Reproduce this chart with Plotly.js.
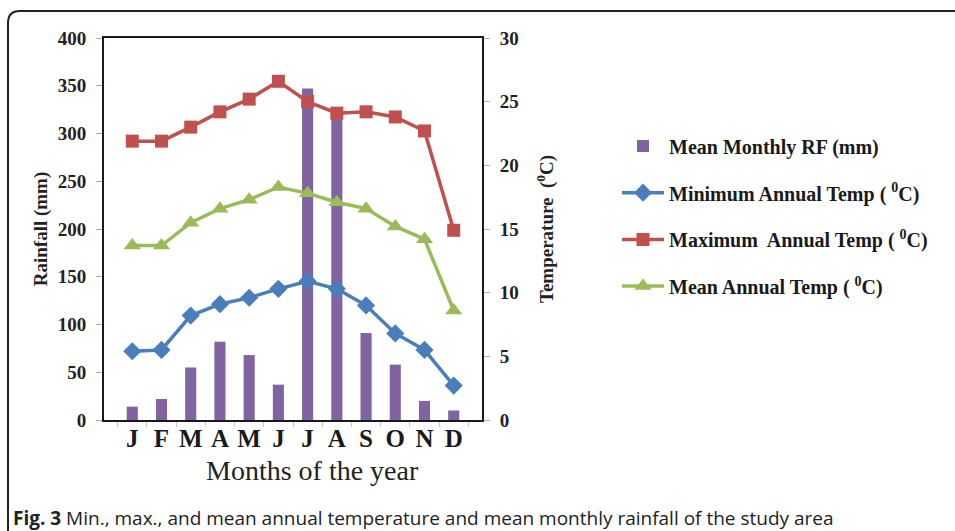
<!DOCTYPE html>
<html>
<head>
<meta charset="utf-8">
<script src="https://cdn.plot.ly/plotly-3.0.1.min.js"></script>
<style>
  html, body { margin: 0; padding: 0; background: #ffffff; }
  #chart { width: 955px; height: 531px; }
</style>
</head>
<body>
<div id="chart"></div>
<script>
// ---- data ----
const months = ["J", "F", "M", "A", "M ", "J ", "J  ", "A ", "S", "O", "N", "D"];
const monthLabels = ["J", "F", "M", "A", "M", "J", "J", "A", "S", "O", "N", "D"];
const rainfall = [14, 22, 55, 82, 68, 37, 347, 320, 91, 58, 20, 10];
const minTemp = [5.4, 5.5, 8.2, 9.1, 9.6, 10.3, 10.9, 10.3, 9.0, 6.8, 5.5, 2.7];
const maxTemp = [21.9, 21.9, 23.0, 24.2, 25.2, 26.6, 25.0, 24.1, 24.2, 23.8, 22.7, 14.9];
const meanTemp = [13.7, 13.7, 15.5, 16.6, 17.3, 18.3, 17.8, 17.1, 16.6, 15.2, 14.2, 8.6];
const rainTicks = [0, 50, 100, 150, 200, 250, 300, 350, 400];
const tempTicks = [0, 5, 10, 15, 20, 25, 30];

const serif = "'Times New Roman', 'Liberation Serif', 'DejaVu Serif', serif";
const sans = "'Segoe UI', 'Open Sans', 'Noto Sans', sans-serif";

const traces = [
  {
    type: "bar", name: "Mean Monthly RF (mm)", x: months, y: rainfall,
    marker: { color: "#8064A2" }, width: 0.38, yaxis: "y", legendgroup: "a"
  },
  {
    type: "scatter", mode: "lines+markers", name: "Minimum Annual Temp ( <sup>0</sup>C)",
    x: months, y: minTemp, yaxis: "y2", legendgroup: "b",
    line: { color: "#4A7EBB", width: 3.5 },
    marker: { symbol: "diamond", size: 14, color: "#4A7EBB" }
  },
  {
    type: "scatter", mode: "lines+markers", name: "Maximum  Annual Temp ( <sup>0</sup>C)",
    x: months, y: maxTemp, yaxis: "y2", legendgroup: "c",
    line: { color: "#C0504D", width: 3.5 },
    marker: { symbol: "square", size: 13, color: "#C0504D" }
  },
  {
    type: "scatter", mode: "lines+markers", name: "Mean Annual Temp ( <sup>0</sup>C)",
    x: months, y: meanTemp, yaxis: "y2", legendgroup: "d",
    line: { color: "#9BBB59", width: 3.5 },
    marker: { symbol: "triangle-up", size: 15, color: "#9BBB59" }
  }
];

const W = 955, H = 531;
const L = 104, R = 482, T = 38, B = 420;
const px = v => (v - L) / (R - L);
const py = v => (B - v) / (B - T);

const layout = {
  width: W, height: H,
  margin: { l: L, r: W - R, t: T, b: H - B, pad: 0 },
  paper_bgcolor: "#ffffff", plot_bgcolor: "#ffffff",
  showlegend: true,
  bargap: 0.6,
  xaxis: {
    type: "category", tickvals: months, ticktext: monthLabels, tickangle: 0,
    showline: true, linecolor: "#1a1a1a", linewidth: 2, mirror: true,
    ticks: "outside", tickson: "boundaries", ticklen: 5, tickcolor: "#c8c8c8",
    ticklabelstandoff: -5,
    tickfont: { family: serif, size: 25, color: "#1a1a1a", weight: "bold" },
    showgrid: false, zeroline: false
  },
  yaxis: {
    range: [0, 400], tickvals: rainTicks,
    showline: true, linecolor: "#1a1a1a", linewidth: 2,
    ticks: "outside", ticklen: 6, tickcolor: "#8db3e2", ticklabelstandoff: 6,
    tickfont: { family: serif, size: 19, color: "#222", weight: "bold" },
    showgrid: false, zeroline: false,
    title: { text: "Rainfall (mm)", font: { family: serif, size: 19, color: "#222", weight: "bold" }, standoff: 5 }
  },
  yaxis2: {
    range: [0, 30], tickvals: tempTicks, overlaying: "y", side: "right",
    showline: true, linecolor: "#1a1a1a", linewidth: 2,
    ticks: "outside", ticklen: 6, tickcolor: "#b0b0b0", ticklabelstandoff: 6,
    tickfont: { family: serif, size: 19, color: "#222", weight: "bold" },
    showgrid: false, zeroline: false,
    title: { text: "Temperature  (<sup>0</sup>C)", font: { family: serif, size: 19, color: "#222", weight: "bold" }, standoff: 22 }
  },
  legend: {
    x: px(617), xanchor: "left", y: py(126.5), yanchor: "top",
    font: { family: serif, size: 20, color: "#1a1a1a", weight: "bold" },
    itemwidth: 42, tracegroupgap: 17.7, bgcolor: "rgba(0,0,0,0)"
  },
  shapes: [
    {
      type: "path", xref: "paper", yref: "paper",
      path: "M " + px(8) + "," + py(545) + " L " + px(8) + "," + py(23) +
            " Q " + px(8) + "," + py(11) + " " + px(20) + "," + py(11) +
            " L " + px(970) + "," + py(11),
      line: { color: "#222", width: 2 }
    }
  ],
  annotations: [
    {
      xref: "paper", yref: "paper", x: px(312), y: py(470), xanchor: "center", yanchor: "middle",
      showarrow: false, text: "Months of the year",
      font: { family: serif, size: 28, color: "#222" }
    },
    {
      xref: "paper", yref: "paper", x: px(11), y: py(518), xanchor: "left", yanchor: "middle",
      showarrow: false, align: "left",
      text: "<b>Fig. 3</b> Min., max., and mean annual temperature and mean monthly rainfall of the study area",
      font: { family: sans, size: 19, color: "#222" }
    }
  ]
};

Plotly.newPlot("chart", traces, layout, { displayModeBar: false, staticPlot: true });
</script>
</body>
</html>
